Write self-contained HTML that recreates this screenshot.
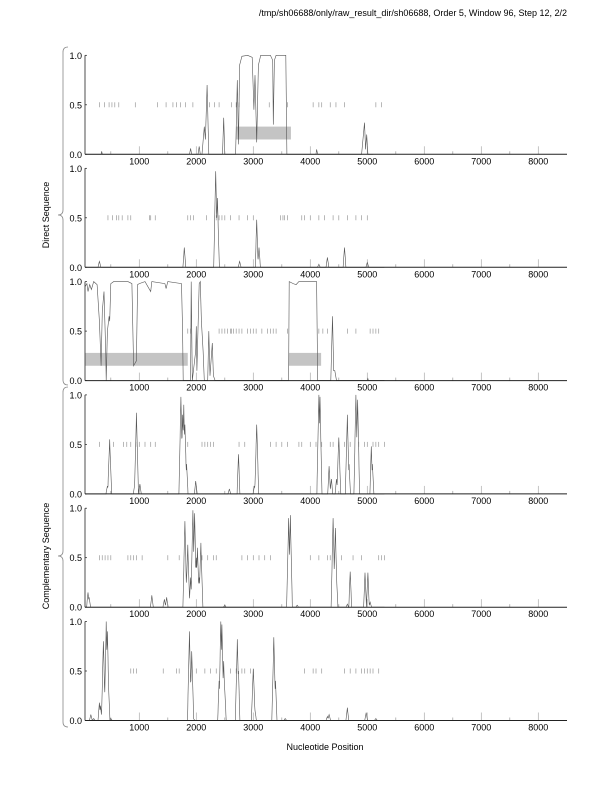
<!DOCTYPE html>
<html><head><meta charset="utf-8"><style>
html,body{margin:0;padding:0;background:#fff;}
svg{display:block;font-family:"Liberation Sans",sans-serif;}
</style></head><body>
<svg id="s" width="612" height="792" viewBox="0 0 612 792" xmlns="http://www.w3.org/2000/svg">
<text x="567" y="16" font-size="9" text-anchor="end" fill="#000">/tmp/sh06688/only/raw_result_dir/sh06688, Order 5, Window 96, Step 12, 2/2</text>
<text x="325" y="750" font-size="9" text-anchor="middle" fill="#000">Nucleotide Position</text>
<text transform="translate(49,215) rotate(-90)" font-size="9" text-anchor="middle">Direct Sequence</text>
<text transform="translate(49,556) rotate(-90)" font-size="9" text-anchor="middle">Complementary Sequence</text>
<path d="M68,47 Q63,47 63,52 L63,210 Q63,215 58,215 Q63,215 63,220 L63,380 Q63,385 68,385" fill="none" stroke="#888" stroke-width="0.8"/>
<path d="M68,387 Q63,387 63,392 L63,551 Q63,556 58,556 Q63,556 63,561 L63,722 Q63,727 68,727" fill="none" stroke="#888" stroke-width="0.8"/>
<g id="g"></g>
</svg>
<script>
var X0=82.3,SX=0.057,L=85,R=567;
function px(n){return X0+n*SX;}
var tops=[55.3,168.3,281.6,394.9,508.2,621.5],H=99;
var P=[
{pts:[[50,0],[330,0],[340,.03],[350,0],[1880,0],[1900,.06],[1920,0],[2030,0],[2050,.08],[2070,0],[2100,0],[2140,.28],[2160,.15],[2190,.7],[2220,0],[2460,0],[2480,.37],[2500,0],[2690,0],[2720,.75],[2740,.1],[2760,.9],[2800,.99],[2900,1],[2980,.98],[3010,.45],[3030,.8],[3060,.12],[3090,.9],[3130,1],[3300,1],[3340,.95],[3350,.3],[3370,.95],[3400,1],[3570,1],[3590,0],[4100,0],[4110,.05],[4130,0],[4900,0],[4950,.32],[4970,.05],[4990,.2],[5010,0],[5100,0]],
 box:[[2700,3660]],
 t:[300,390,470,520,570,640,930,1320,1470,1590,1650,1720,1810,1940,2230,2320,2400,2620,2700,2750,3280,3600,4050,4150,4200,4350,4450,4600,5150,5250]},
{pk:[[300,.06],[1790,.2],[2340,.97],[2370,.7],[2760,.06],[3060,.48],[3100,.2],[4150,.03],[4300,.1],[4600,.2],[5000,.05]],
 t:[450,530,600,640,700,800,850,1180,1200,1280,1850,1900,1950,2180,2350,2400,2450,2500,2600,2750,2900,3000,3480,3520,3550,3600,3850,3900,4000,4150,4250,4400,4500,4650,4800,4900,5000]},
{pts:[[50,.95],[80,.98],[100,.9],[130,.97],[160,.92],[200,1],[260,.97],[300,.6],[330,.15],[350,.7],[380,.9],[410,.3],[420,0],[440,.5],[470,.65],[480,.6],[500,.98],[550,1],[800,1],[870,.98],[900,.15],[950,.2],[970,.97],[1000,.98],[1100,1],[1200,.9],[1220,1],[1450,.98],[1470,.93],[1500,1],[1740,.98],[1760,.5],[1770,0],[1900,0],[1910,1],[1930,0],[1990,.3],[2000,.55],[2010,.1],[2050,.98],[2070,1],[2090,.6],[2120,.3],[2140,0],[2200,0],[2220,.5],[2240,.05],[2280,.38],[2300,.05],[2330,0],[3620,0],[3630,1],[3700,.98],[3750,.97],[3800,1],[4110,1],[4130,0],[4360,0],[4390,.65],[4410,.1],[4430,.1],[4460,0],[5000,0],[5010,.02],[5020,0],[5300,0]],
 box:[[50,1850],[3620,4190]],
 t:[1850,1900,2400,2450,2500,2550,2600,2620,2650,2700,2750,2800,2900,2950,3000,3050,3150,3250,3300,3350,3400,3600,4150,4220,4300,4650,4800,5050,5100,5150,5200]},
{pk:[[480,.55],[440,.08],[950,.82],[920,.1],[1010,.1],[1730,.98],[1760,.8],[1780,.9],[1800,.7],[1830,.3],[1990,.13],[2580,.05],[2740,.4],[3020,.08],[3060,.7],[4150,1],[4170,.98],[4330,.28],[4370,.15],[4500,.57],[4460,.15],[4650,.8],[4680,.3],[4800,1],[4830,.95],[5070,.48],[5090,.3]],
 t:[300,550,720,780,850,940,1000,1100,1200,1280,1850,2100,2150,2200,2250,2300,2750,2850,3300,3400,3500,3600,3800,3850,4000,4100,4200,4350,4400,4500,4600,4700,4850,4950,5000,5100,5150,5200,5300]},
{pk:[[100,.15],[120,.1],[1220,.12],[1440,.08],[1480,.1],[1800,.87],[1830,.3],[1850,.63],[1900,.3],[1940,.98],[1970,.95],[2000,.5],[2020,.6],[2050,.3],[2080,.65],[2500,.02],[3620,.9],[3650,.93],[3770,.02],[4400,.9],[4440,.8],[4460,.3],[4700,.36],[4650,.03],[4960,.35],[5010,.35],[5050,.05]],
 t:[300,350,400,450,500,800,850,900,950,1050,1500,1700,2100,2200,2300,2350,2800,2900,3000,3100,3200,3300,4000,4150,4300,4350,4550,4750,4900,5200,5250,5300]},
{pk:[[150,.06],[200,.02],[300,.18],[320,.15],[370,.8],[380,.35],[420,1],[440,.9],[460,.35],[500,.02],[1880,.9],[1920,.7],[1950,.02],[2400,.4],[2430,1],[2450,.97],[2480,.6],[2500,.3],[2720,.82],[2740,.5],[3000,.52],[3030,.1],[3360,.84],[3390,.4],[3560,.02],[4300,.04],[4330,.06],[4650,.13],[4980,.08],[5150,.02]],
 t:[850,900,950,1420,1650,1700,2000,2150,2250,2350,2600,2700,2800,2850,2950,3000,3900,4050,4100,4200,4600,4700,4800,4900,4950,5000,5050,5100,5200]}
];
var o='';
P.forEach(function(p,i){
 var top=tops[i],bot=top+H;
 function py(v){return (bot-v*H).toFixed(1);}
 (p.box||[]).forEach(function(b){o+='<rect x="'+px(b[0])+'" y="'+py(.28)+'" width="'+((b[1]-b[0])*SX)+'" height="'+(.13*H)+'" fill="#c4c4c4"/>';});
 for(var k=1;k<=8;k++){o+='<line x1="'+px(k*1000)+'" x2="'+px(k*1000)+'" y1="'+bot+'" y2="'+(bot-8)+'" stroke="#aaa" stroke-width="0.7"/>';
  o+='<text x="'+px(k*1000)+'" y="'+(bot+10)+'" font-size="9" text-anchor="middle">'+(k*1000)+'</text>';}
 for(var k=0;k<8;k++){var m=k*1000+500;o+='<line x1="'+px(m)+'" x2="'+px(m)+'" y1="'+bot+'" y2="'+(bot-3)+'" stroke="#999" stroke-width="0.7"/>';}
 p.t.forEach(function(t){o+='<line x1="'+px(t)+'" x2="'+px(t)+'" y1="'+(bot-.5*H-2.5)+'" y2="'+(bot-.5*H+2.5)+'" stroke="#999" stroke-width="0.7"/>';});
 var pts=p.pts;
 if(!pts){pts=[];for(var n=50;n<=5300;n+=5){var v=0;p.pk.forEach(function(q){var w=q[1]>.5?35:25;var d=Math.abs(n-q[0]);if(d<w)v=Math.max(v,q[1]*(1-d/w));});pts.push([n,v]);}}
 o+='<polyline fill="none" stroke="#555" stroke-width="0.6" points="'+pts.map(function(q){return px(q[0]).toFixed(1)+','+py(q[1]);}).join(' ')+'"/>';
 o+='<line x1="'+L+'" x2="'+R+'" y1="'+bot+'" y2="'+bot+'" stroke="#222" stroke-width="1"/>';
 o+='<line x1="'+L+'" x2="'+L+'" y1="'+top+'" y2="'+bot+'" stroke="#222" stroke-width="0.8"/>';
 [[1,'1.0'],[.5,'0.5'],[0,'0.0']].forEach(function(a){var y=bot-a[0]*H;o+='<line x1="'+L+'" x2="'+(L+2)+'" y1="'+y+'" y2="'+y+'" stroke="#222" stroke-width="0.7"/>';o+='<text x="'+(L-3)+'" y="'+(y+3.5)+'" font-size="9" text-anchor="end">'+a[1]+'</text>';});
});
document.getElementById('g').innerHTML=o;
</script>
</body></html>
